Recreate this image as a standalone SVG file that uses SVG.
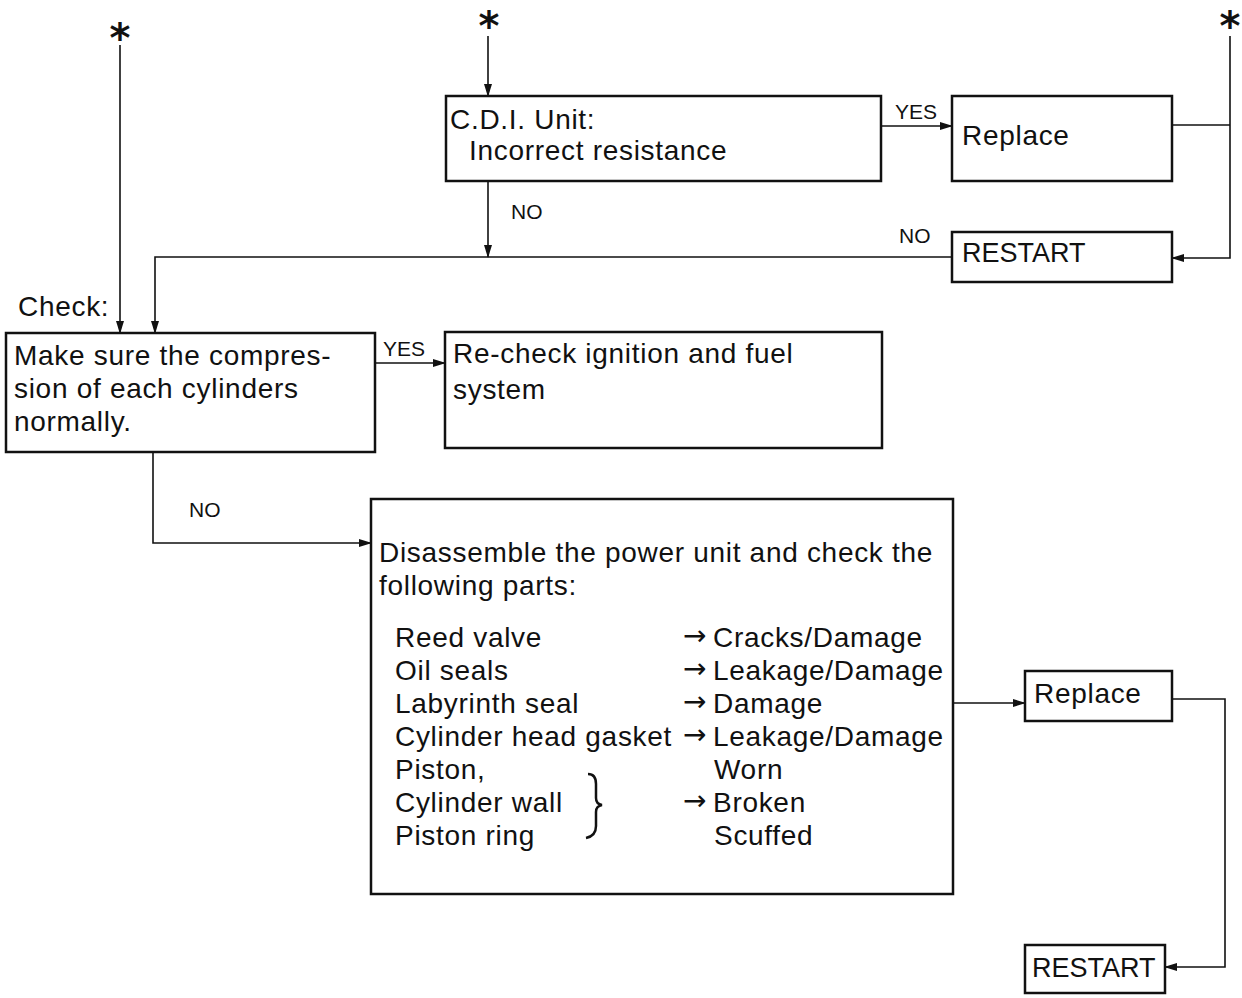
<svg xmlns="http://www.w3.org/2000/svg" width="1242" height="998" viewBox="0 0 1242 998">
<style>
.box{fill:#fff;stroke:#111;stroke-width:2.5}
.t{font-family:"Liberation Sans",Arial,sans-serif;font-size:28px;letter-spacing:0.7px;fill:#111}
.r{font-family:"Liberation Sans",Arial,sans-serif;font-size:27px;fill:#111}
.ar{font-family:"DejaVu Sans",sans-serif;font-size:28px;fill:#111}
.s{font-family:"Liberation Sans",Arial,sans-serif;font-size:21px;fill:#111}
.ast{font-family:"DejaVu Sans",sans-serif;font-size:40px;font-weight:bold;fill:#111}
.ln{fill:none;stroke:#111;stroke-width:1.6}
</style>
<defs>
<marker id="ah" markerWidth="13" markerHeight="10" refX="12" refY="5" orient="auto" markerUnits="userSpaceOnUse">
<path d="M0,1 L13,5 L0,9 Z" fill="#111"/>
</marker>
</defs>
<rect width="1242" height="998" fill="#fff"/>
<g id="asterisks">
<text class="ast" x="120" y="52" text-anchor="middle">*</text>
<text class="ast" x="489" y="40" text-anchor="middle">*</text>
<text class="ast" x="1230" y="40" text-anchor="middle">*</text>
</g>
<g id="connectors">
<path class="ln" d="M120,45 V333" marker-end="url(#ah)"/>
<path class="ln" d="M488,36 V96" marker-end="url(#ah)"/>
<path class="ln" d="M881,126 H952" marker-end="url(#ah)"/>
<path class="ln" d="M1172,125 H1230"/>
<path class="ln" d="M1230,36 V258 H1172" marker-end="url(#ah)"/>
<path class="ln" d="M488,181 V257" marker-end="url(#ah)"/>
<path class="ln" d="M952,257 H155 V333" marker-end="url(#ah)"/>
<path class="ln" d="M375,363 H445" marker-end="url(#ah)"/>
<path class="ln" d="M153,452 V543 H371" marker-end="url(#ah)"/>
<path class="ln" d="M953,703 H1025" marker-end="url(#ah)"/>
<path class="ln" d="M1172,699 H1225 V967 H1165" marker-end="url(#ah)"/>
<text class="s" x="895" y="119">YES</text>
<text class="s" x="511" y="219">NO</text>
<text class="s" x="899" y="243">NO</text>
<text class="s" x="383" y="356">YES</text>
<text class="s" x="189" y="517">NO</text>
</g>
<g id="cdi">
<rect class="box" x="446" y="96" width="435" height="85"/>
<text class="t" x="450" y="129">C.D.I. Unit:</text>
<text class="t" x="469" y="160">Incorrect resistance</text>
</g>
<g id="replace1">
<rect class="box" x="952" y="96" width="220" height="85"/>
<text class="t" x="962" y="145">Replace</text>
</g>
<g id="restart1">
<rect class="box" x="952" y="232" width="220" height="50"/>
<text class="r" x="962" y="262">RESTART</text>
</g>
<g id="check">
<text class="t" x="18" y="316">Check:</text>
<rect class="box" x="6" y="333" width="369" height="119"/>
<text class="t" x="14" y="365">Make sure the compres-</text>
<text class="t" x="14" y="398">sion of each cylinders</text>
<text class="t" x="14" y="431">normally.</text>
</g>
<g id="recheck">
<rect class="box" x="445" y="332" width="437" height="116"/>
<text class="t" x="453" y="363">Re-check ignition and fuel</text>
<text class="t" x="453" y="399">system</text>
</g>
<g id="disassemble">
<rect class="box" x="371" y="499" width="582" height="395"/>
<text class="t" x="379" y="562">Disassemble the power unit and check the</text>
<text class="t" x="379" y="595">following parts:</text>
<text class="t" x="395" y="647">Reed valve</text>
<text class="t" x="395" y="680">Oil seals</text>
<text class="t" x="395" y="713">Labyrinth seal</text>
<text class="t" x="395" y="746">Cylinder head gasket</text>
<text class="t" x="395" y="779">Piston,</text>
<text class="t" x="395" y="812">Cylinder wall</text>
<text class="t" x="395" y="845">Piston ring</text>
<text class="ar" x="683" y="645">→</text>
<text class="ar" x="683" y="678">→</text>
<text class="ar" x="683" y="711">→</text>
<text class="ar" x="683" y="744">→</text>
<text class="ar" x="683" y="810">→</text>
<text class="t" x="713" y="647">Cracks/Damage</text>
<text class="t" x="713" y="680">Leakage/Damage</text>
<text class="t" x="713" y="713">Damage</text>
<text class="t" x="713" y="746">Leakage/Damage</text>
<text class="t" x="714" y="779">Worn</text>
<text class="t" x="713" y="812">Broken</text>
<text class="t" x="714" y="845">Scuffed</text>
<path d="M588,774 Q596,774 596,784 V798 Q596,804 602,805 Q596,806 596,812 V826 Q596,836 586,838" fill="none" stroke="#111" stroke-width="2.5"/>
</g>
<g id="replace2">
<rect class="box" x="1025" y="671" width="147" height="50"/>
<text class="t" x="1034" y="703">Replace</text>
</g>
<g id="restart2">
<rect class="box" x="1025" y="945" width="140" height="48"/>
<text class="r" x="1032" y="977">RESTART</text>
</g>
</svg>
